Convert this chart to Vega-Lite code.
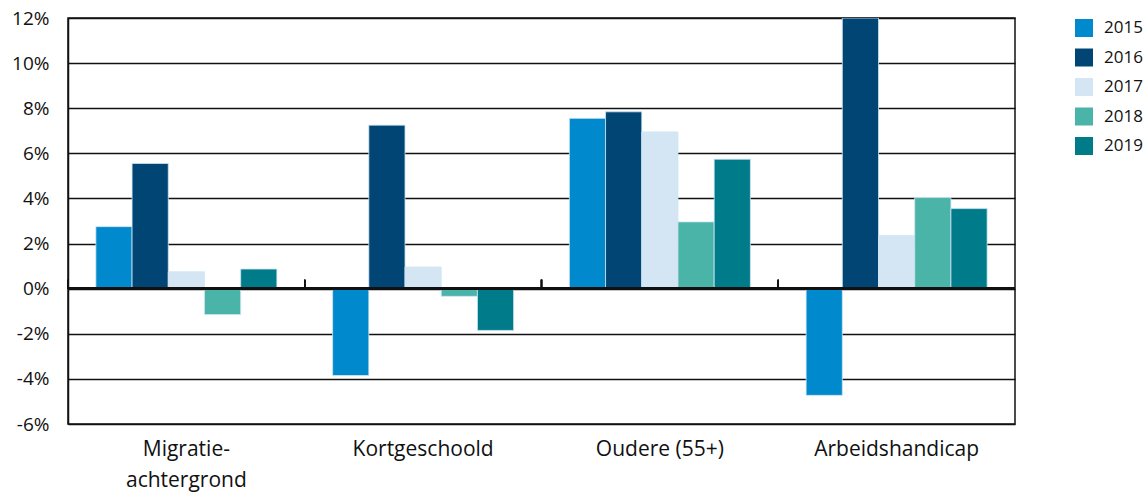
{
  "$schema": "https://vega.github.io/schema/vega-lite/v6.json",
  "width": 947,
  "height": 406,
  "autosize": {"type": "none"},
  "padding": {"left": 68, "top": 18, "right": 131, "bottom": 71},
  "background": "white",
  "config": {
    "font": "Open Sans",
    "view": {"stroke": "#111", "strokeWidth": 1.5}
  },
  "data": {
    "values": [
      {"groep": "Migratie-achtergrond", "jaar": "2015", "waarde": 2.75},
      {"groep": "Migratie-achtergrond", "jaar": "2016", "waarde": 5.55},
      {"groep": "Migratie-achtergrond", "jaar": "2017", "waarde": 0.75},
      {"groep": "Migratie-achtergrond", "jaar": "2018", "waarde": -1.15},
      {"groep": "Migratie-achtergrond", "jaar": "2019", "waarde": 0.87},
      {"groep": "Kortgeschoold", "jaar": "2015", "waarde": -3.85},
      {"groep": "Kortgeschoold", "jaar": "2016", "waarde": 7.25},
      {"groep": "Kortgeschoold", "jaar": "2017", "waarde": 0.96},
      {"groep": "Kortgeschoold", "jaar": "2018", "waarde": -0.34},
      {"groep": "Kortgeschoold", "jaar": "2019", "waarde": -1.85},
      {"groep": "Oudere (55+)", "jaar": "2015", "waarde": 7.55},
      {"groep": "Oudere (55+)", "jaar": "2016", "waarde": 7.84},
      {"groep": "Oudere (55+)", "jaar": "2017", "waarde": 6.95},
      {"groep": "Oudere (55+)", "jaar": "2018", "waarde": 2.96},
      {"groep": "Oudere (55+)", "jaar": "2019", "waarde": 5.74},
      {"groep": "Arbeidshandicap", "jaar": "2015", "waarde": -4.73},
      {"groep": "Arbeidshandicap", "jaar": "2016", "waarde": 12.0},
      {"groep": "Arbeidshandicap", "jaar": "2017", "waarde": 2.36},
      {"groep": "Arbeidshandicap", "jaar": "2018", "waarde": 4.04},
      {"groep": "Arbeidshandicap", "jaar": "2019", "waarde": 3.55}
    ]
  },
  "layer": [
    {
      "mark": {"type": "bar", "stroke": "#cfe5f3", "strokeWidth": 0.8, "clip": true},
      "encoding": {
        "x": {
          "field": "groep",
          "type": "nominal",
          "sort": null,
          "scale": {"paddingInner": 0, "paddingOuter": 0},
          "axis": {
            "title": null,
            "ticks": false,
            "domain": false,
            "labelAngle": 0,
            "labelFontSize": 21,
            "labelColor": "#111",
            "labelPadding": 14,
            "labelLineHeight": 31,
            "labelExpr": "datum.label == 'Migratie-achtergrond' ? ['Migratie-', 'achtergrond'] : datum.label"
          }
        },
        "xOffset": {
          "field": "jaar",
          "type": "nominal",
          "scale": {"paddingInner": 0, "paddingOuter": 0.77}
        },
        "y": {
          "field": "waarde",
          "type": "quantitative",
          "scale": {"domain": [-6, 12], "nice": false},
          "axis": {
            "title": null,
            "values": [-6, -4, -2, 0, 2, 4, 6, 8, 10, 12],
            "labelExpr": "datum.value + '%'",
            "ticks": false,
            "labelPadding": 19,
            "labelFontSize": 19,
            "labelColor": "#111",
            "domainColor": "#111",
            "domainWidth": 1.5,
            "gridColor": "#111",
            "gridWidth": 1.3,
            "gridOpacity": 1
          }
        },
        "color": {
          "field": "jaar",
          "type": "nominal",
          "scale": {
            "domain": ["2015", "2016", "2017", "2018", "2019"],
            "range": ["#0089cd", "#004574", "#d4e6f4", "#4bb4a9", "#007b8a"]
          },
          "legend": {
            "title": null,
            "orient": "none",
            "legendX": 1007,
            "legendY": 1,
            "symbolType": "square",
            "symbolSize": 324,
            "symbolStrokeWidth": 0,
            "symbolOpacity": 1,
            "labelFontSize": 17,
            "labelColor": "#111",
            "labelOffset": 11,
            "rowPadding": 11.5
          }
        }
      }
    },
    {
      "mark": {"type": "rule", "color": "#111", "strokeWidth": 1.5},
      "encoding": {
        "x": {"field": "groep", "type": "nominal", "sort": null, "bandPosition": 0},
        "y": {"datum": 0},
        "y2": {"datum": 0.4}
      }
    },
    {
      "mark": {"type": "rule", "color": "#111", "strokeWidth": 2.4},
      "encoding": {"y": {"datum": 0}}
    }
  ]
}
